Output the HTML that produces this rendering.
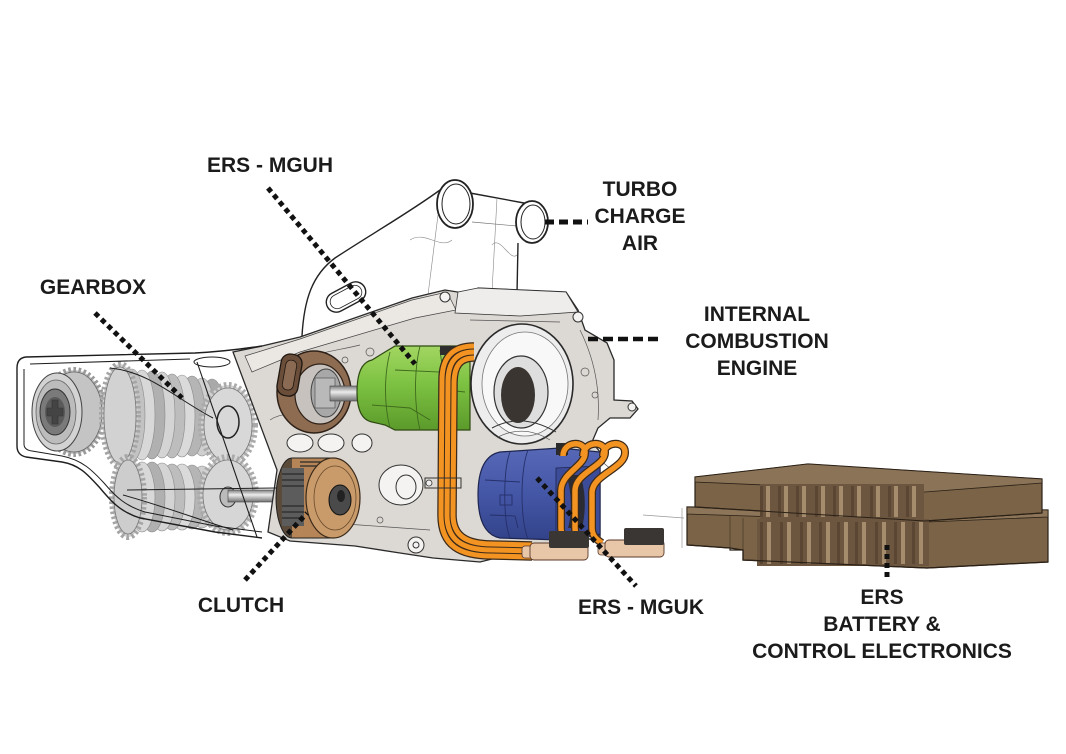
<!DOCTYPE html>
<html><head><meta charset="utf-8"><style>
html,body{margin:0;padding:0;background:#fff;}
svg{display:block;}
text{font-family:"Liberation Sans",sans-serif;font-weight:bold;font-size:21px;fill:#1b1b1b;}
</style></head><body>
<svg width="1066" height="754" viewBox="0 0 1066 754" xmlns="http://www.w3.org/2000/svg">
<defs>
<linearGradient id="shaft" x1="0" y1="0" x2="0" y2="1"><stop offset="0" stop-color="#7d7d7d"/><stop offset=".4" stop-color="#ececec"/><stop offset="1" stop-color="#707070"/></linearGradient>
<linearGradient id="green" x1="0" y1="0" x2="0" y2="1"><stop offset="0" stop-color="#a2d662"/><stop offset=".45" stop-color="#7dc242"/><stop offset="1" stop-color="#5b9a2b"/></linearGradient>
<linearGradient id="blue" x1="0" y1="0" x2="0" y2="1"><stop offset="0" stop-color="#5668b6"/><stop offset=".5" stop-color="#4456a6"/><stop offset="1" stop-color="#33438a"/></linearGradient>
</defs>
<rect width="1066" height="754" fill="#fff"/>

<!-- intake structure -->
<g fill="none" stroke="#222" stroke-width="1.4">
<path d="M302,336 C304,300 312,275 335,258 C370,235 410,212 440,190"/>
<path d="M470,193 L524,203"/>
<path d="M472,222 L517,226" stroke-width="0.7" stroke="#777"/>
<path d="M518,243 L517,294"/>
<path d="M497,198 L492,292" stroke-width="0.6" stroke="#888"/>
<path d="M438,215 L428,295" stroke-width="0.6" stroke="#888"/>
<path d="M410,240 C425,230 440,250 452,240" stroke-width="0.6" stroke="#888"/>
<path d="M492,245 C500,235 510,262 517,255" stroke-width="0.6" stroke="#888"/>
</g>
<ellipse cx="455" cy="204" rx="18" ry="24" fill="#fff" stroke="#222" stroke-width="1.8"/>
<ellipse cx="456" cy="204" rx="14" ry="20" fill="#fff" stroke="#222" stroke-width="1"/>
<ellipse cx="532" cy="222" rx="16" ry="21" fill="#fff" stroke="#222" stroke-width="1.8"/>
<ellipse cx="533" cy="222" rx="12" ry="17" fill="#fff" stroke="#222" stroke-width="1"/>
<g transform="rotate(-28 346 297)"><rect x="325" y="287" width="42" height="20" rx="10" fill="#fff" stroke="#222" stroke-width="1.4"/><rect x="329" y="290" width="34" height="14" rx="7" fill="none" stroke="#222" stroke-width="0.8"/></g>

<!-- gearbox casing fill -->
<path d="M26,357 L262,346 L277,470 L262,538 L215,532 L140,518 C120,512 110,500 100,488 C88,475 80,465 62,462 L26,457 Q17,455 17,446 L17,368 Q17,358 26,357 Z" fill="#fff"/>

<!-- left gear -->
<ellipse cx="74" cy="412" rx="30" ry="42" fill="#c8c8c8" stroke="#9a9a9a" stroke-width="6" stroke-dasharray="2.5 2.5"/>
<ellipse cx="74" cy="412" rx="28" ry="40" fill="#c4c4c4" stroke="#666" stroke-width="0.8"/>
<ellipse cx="57" cy="412" rx="25" ry="39" fill="#d3d3d3" stroke="#444" stroke-width="1"/>
<ellipse cx="56" cy="412" rx="20" ry="32" fill="#bcbcbc" stroke="#666" stroke-width="0.8"/>
<ellipse cx="55" cy="412" rx="15" ry="23" fill="#7a7a7a" stroke="#333" stroke-width="1"/>
<ellipse cx="55" cy="412" rx="10" ry="15" fill="#5a5a5a"/>
<path d="M52,400 h6 v8 h5 v8 h-5 v8 h-6 v-8 h-5 v-8 h5 z" fill="#444" stroke="#333" stroke-width="0.6"/>

<!-- upper gear stack -->
<g stroke="#8a8a8a" stroke-width="0.6">
<ellipse cx="212" cy="417" rx="13" ry="38" fill="#a9a9a9"/>
<ellipse cx="202" cy="417" rx="13" ry="39" fill="#cfcfcf"/>
<ellipse cx="192" cy="416" rx="13" ry="40" fill="#b5b5b5"/>
<ellipse cx="182" cy="416" rx="13" ry="41" fill="#dadada"/>
<ellipse cx="172" cy="416" rx="13" ry="42" fill="#bdbdbd"/>
<ellipse cx="162" cy="415" rx="13" ry="43" fill="#d4d4d4"/>
<ellipse cx="152" cy="415" rx="13" ry="44" fill="#b0b0b0"/>
<ellipse cx="142" cy="415" rx="13" ry="45" fill="#d8d8d8"/>
<ellipse cx="132" cy="415" rx="13" ry="46" fill="#c2c2c2"/>
</g>
<ellipse cx="120" cy="415" rx="18" ry="51" fill="#cfcfcf" stroke="#a5a5a5" stroke-width="6" stroke-dasharray="2.5 2.5"/>
<ellipse cx="120" cy="415" rx="16" ry="48" fill="#d2d2d2" stroke="#777" stroke-width="0.8"/>
<ellipse cx="228" cy="425" rx="27" ry="40" fill="#d4d4d4" stroke="#aaa" stroke-width="6" stroke-dasharray="2.5 2.5"/>
<ellipse cx="228" cy="425" rx="24" ry="37" fill="#d8d8d8" stroke="#777" stroke-width="0.8"/>
<ellipse cx="228" cy="422" rx="11" ry="16" fill="none" stroke="#222" stroke-width="1.5"/>

<!-- lower gear stack -->
<g stroke="#8a8a8a" stroke-width="0.6">
<ellipse cx="212" cy="497" rx="13" ry="30" fill="#a9a9a9"/>
<ellipse cx="202" cy="497" rx="13" ry="31" fill="#cfcfcf"/>
<ellipse cx="192" cy="497" rx="13" ry="32" fill="#b5b5b5"/>
<ellipse cx="182" cy="497" rx="13" ry="33" fill="#dadada"/>
<ellipse cx="172" cy="497" rx="13" ry="33" fill="#bdbdbd"/>
<ellipse cx="162" cy="497" rx="13" ry="34" fill="#d4d4d4"/>
<ellipse cx="152" cy="497" rx="13" ry="35" fill="#b0b0b0"/>
<ellipse cx="142" cy="497" rx="13" ry="35" fill="#d8d8d8"/>
</g>
<ellipse cx="128" cy="497" rx="16" ry="40" fill="#cfcfcf" stroke="#a5a5a5" stroke-width="6" stroke-dasharray="2.5 2.5"/>
<ellipse cx="128" cy="497" rx="14" ry="37" fill="#cdcdcd" stroke="#777" stroke-width="0.8"/>
<ellipse cx="228" cy="495" rx="28" ry="38" fill="#d4d4d4" stroke="#aaa" stroke-width="6" stroke-dasharray="2.5 2.5"/>
<ellipse cx="228" cy="495" rx="25" ry="35" fill="#d6d6d6" stroke="#777" stroke-width="0.8"/>
<ellipse cx="228" cy="497" rx="8" ry="10" fill="#bbb" stroke="#333" stroke-width="1"/>
<rect x="228" y="490" width="50" height="12" fill="url(#shaft)" stroke="#444" stroke-width="0.6"/>

<!-- engine block -->
<path d="M233,352 L262,346 L300,337 L412,298 L445,290 L470,294 L478,288 L566,292 L578,310 L585,330 L607,343 L614,360 L614,400 L632,401 L638,409 L630,418 L610,418 L598,428 L592,442 L600,452 L600,538 L560,542 L480,562 L433,558 L400,553 L355,546 L290,541 L268,532 L277,470 Z" fill="#dcd8d3" stroke="#2a2a2a" stroke-width="1.3"/>
<path d="M245,356 L300,339 L412,300 L447,292 L456,310 L415,318 L300,352 L252,372 Z" fill="#ebe8e4" stroke="#444" stroke-width="0.7"/>
<path d="M455,313 L458,292 L478,288 L566,292 L578,312 L520,316 Z" fill="#efedeb" stroke="#333" stroke-width="0.8"/>
<g fill="none" stroke="#555" stroke-width="0.7">
<path d="M300,360 C320,352 340,350 360,345"/>
<path d="M270,420 C285,410 300,415 315,425"/>
<path d="M580,330 C595,360 600,390 598,420"/>
<path d="M470,320 L560,322"/>
<path d="M280,520 L360,525 L430,530"/>
<path d="M600,460 L612,470"/>
<circle cx="330" cy="365" r="4"/><circle cx="345" cy="360" r="3"/><circle cx="370" cy="352" r="4"/>
<circle cx="585" cy="372" r="4"/><circle cx="595" cy="395" r="3"/>
<circle cx="300" cy="515" r="3"/><circle cx="380" cy="520" r="3"/>
</g>
<g fill="#f4f3f2" stroke="#333" stroke-width="1">
<ellipse cx="300" cy="443" rx="13" ry="9"/>
<ellipse cx="331" cy="443" rx="13" ry="9"/>
<ellipse cx="362" cy="443" rx="10" ry="9"/>
<ellipse cx="401" cy="485" rx="22" ry="20"/>
<ellipse cx="406" cy="487" rx="10" ry="12"/>
<circle cx="445" cy="297" r="5"/>
<circle cx="578" cy="317" r="5"/>
<circle cx="632" cy="407" r="4"/>
<circle cx="416" cy="545" r="8"/>
<circle cx="416" cy="545" r="3"/>
</g>

<!-- gearbox outlines -->
<g fill="none" stroke="#1e1e1e" stroke-width="1.4">
<path d="M26,357 L195,353 C215,352 235,350 262,346"/>
<path d="M26,357 Q17,358 17,368 L17,446 Q17,455 26,457 L62,462 C80,465 88,475 100,488 C110,500 120,512 140,518 L215,532 L262,538"/>
<path d="M30,364 L190,359" stroke-width="1"/>
<path d="M24,369 L24,444 Q24,450 32,451 L62,456 C82,460 92,470 104,483 C115,496 125,506 145,512 L215,526 L262,532" stroke-width="1"/>
<path d="M197,362 L257,537" stroke-width="1.1"/>
<path d="M110,368 C150,372 175,398 213,418" stroke-width="1"/>
<path d="M127,490 L277,488" stroke-width="1"/>
<path d="M123,495 C160,505 200,520 233,530" stroke-width="1"/>
<ellipse cx="212" cy="362" rx="18" ry="5" stroke-width="1"/>
</g>

<!-- clutch -->
<ellipse cx="292" cy="498" rx="16" ry="40" fill="#5a4a3a" stroke="#222" stroke-width="1"/>
<rect x="292" y="458" width="41" height="80" fill="#b58557"/>
<line x1="292" y1="458" x2="333" y2="458" stroke="#222" stroke-width="1"/>
<line x1="292" y1="538" x2="333" y2="538" stroke="#222" stroke-width="1"/>
<rect x="282" y="468" width="22" height="58" fill="#5c5c5c"/>
<g stroke="#2a2a2a" stroke-width="1.2">
<line x1="282" y1="474" x2="304" y2="474"/><line x1="282" y1="480" x2="304" y2="480"/><line x1="282" y1="486" x2="304" y2="486"/>
<line x1="282" y1="506" x2="304" y2="506"/><line x1="282" y1="512" x2="304" y2="512"/><line x1="282" y1="518" x2="304" y2="518"/>
<line x1="300" y1="462" x2="325" y2="462"/><line x1="300" y1="466" x2="325" y2="466"/>
</g>
<ellipse cx="333" cy="498" rx="27" ry="40" fill="#c99b6b" stroke="#3a2a1a" stroke-width="1.2"/>
<ellipse cx="335" cy="498" rx="21" ry="32" fill="none" stroke="#6a4a2a" stroke-width="0.8"/>
<ellipse cx="340" cy="500" rx="11" ry="15" fill="#4a4a4a" stroke="#111" stroke-width="1"/>
<ellipse cx="341" cy="496" rx="4" ry="6" fill="#222"/>

<!-- brown ring + shaft -->
<ellipse cx="314" cy="392" rx="37" ry="41" fill="#8e6c52" stroke="#2e2118" stroke-width="1.5"/>
<ellipse cx="320" cy="394" rx="25" ry="30" fill="#c7c2bd" stroke="#2e2118" stroke-width="1.2"/>
<ellipse cx="326" cy="393" rx="15" ry="24" fill="#a8a8a8" stroke="#444" stroke-width="1"/>
<rect x="315" y="378" width="20" height="30" fill="#b9b9b9" stroke="#555" stroke-width="0.7"/>
<g transform="rotate(10 289 375)"><rect x="279" y="354" width="21" height="42" rx="9" fill="#6a4e3a" stroke="#1f1711" stroke-width="1.3"/><rect x="284" y="360" width="11" height="30" rx="5" fill="#8a6a52" stroke="#1f1711" stroke-width="0.8"/></g>
<rect x="330" y="386" width="32" height="15" fill="url(#shaft)" stroke="#444" stroke-width="0.6"/>

<!-- green MGUH -->
<path d="M357,392 C357,372 362,362 372,360 L385,352 L395,346 L462,346 L470,352 L470,430 L395,430 L385,425 L372,422 C362,420 357,410 357,392 Z" fill="url(#green)" stroke="#2e4a12" stroke-width="1.2"/>
<g fill="none" stroke="#3f6a1c" stroke-width="0.9">
<path d="M390,352 C384,375 384,405 390,428"/>
<path d="M420,346 C414,370 414,405 420,430"/>
<path d="M395,370 L440,372 L445,390 L465,392"/>
<path d="M372,405 L410,408 L430,420"/>
<path d="M440,350 L442,365 L462,366"/>
</g>
<rect x="440" y="346" width="22" height="9" fill="#2e2e2e"/>

<!-- compressor -->
<ellipse cx="522" cy="384" rx="51" ry="60" fill="#ededed" stroke="#2a2a2a" stroke-width="1.6"/>
<ellipse cx="525" cy="384" rx="43" ry="52" fill="#f8f8f8" stroke="#777" stroke-width="0.8"/>
<ellipse cx="521" cy="392" rx="27" ry="36" fill="#dedede" stroke="#333" stroke-width="1.2"/>
<ellipse cx="518" cy="395" rx="17" ry="28" fill="#3b3531"/>
<path d="M492,428 Q522,412 556,432" fill="none" stroke="#333" stroke-width="1"/>
<path d="M498,437 Q524,424 550,440" fill="none" stroke="#555" stroke-width="0.7"/>

<!-- main orange cables -->
<g fill="none" stroke-linecap="butt">
<g stroke="#3b2a1a" stroke-width="7.5">
<path d="M474,346 C452,346 442,358 442,380 L441,515 C441,546 460,556 492,556 L532,557"/>
<path d="M474,352 C456,352 448,362 448,382 L447,515 C447,540 462,550 492,550 L532,551"/>
<path d="M474,358 C460,358 454,366 454,384 L453,515 C453,534 464,544 492,544 L532,545"/>
</g>
<g stroke="#f39322" stroke-width="5">
<path d="M474,346 C452,346 442,358 442,380 L441,515 C441,546 460,556 492,556 L532,557"/>
<path d="M474,352 C456,352 448,362 448,382 L447,515 C447,540 462,550 492,550 L532,551"/>
<path d="M474,358 C460,358 454,366 454,384 L453,515 C453,534 464,544 492,544 L532,545"/>
</g>
</g>
<rect x="425" y="478" width="36" height="10" fill="none" stroke="#333" stroke-width="1"/>
<circle cx="429" cy="483" r="3" fill="#eee" stroke="#333" stroke-width="0.8"/>

<!-- blue MGUK -->
<path d="M478,495 C478,470 485,455 500,452 L560,448 L600,452 L600,535 L560,540 L500,538 C485,535 478,520 478,495 Z" fill="url(#blue)" stroke="#1d2550" stroke-width="1.2"/>
<g fill="none" stroke="#25306a" stroke-width="0.9">
<path d="M510,452 C503,470 503,520 510,538"/>
<path d="M528,450 C520,470 520,520 528,539"/>
<path d="M485,480 L520,482"/>
<path d="M490,515 L515,516 L518,528"/>
<rect x="500" y="495" width="12" height="10"/>
</g>
<path d="M556,468 L600,466 L600,534 L556,536 Z" fill="#3c4c98" stroke="#1d2550" stroke-width="0.8"/>
<path d="M566,475 C572,490 572,515 568,528 L582,528 C586,512 586,490 580,475 Z" fill="#2b2b33"/>
<rect x="556" y="443" width="12" height="12" fill="#2a2a2a"/>

<!-- MGUK cables -->
<g fill="none">
<g stroke="#3b2a1a" stroke-width="8">
<path d="M563,456 C563,441 585,440 585,452 C586,466 562,472 561,490 L561,528 C561,536 566,540 572,543"/>
<path d="M583,456 C583,441 605,440 605,452 C606,466 576,472 575,490 L575,528 C575,536 580,540 586,543"/>
<path d="M603,456 C603,441 625,440 625,452 C626,468 593,474 592,492 L592,528 C592,536 597,540 602,543"/>
</g>
<g stroke="#f39322" stroke-width="5.5">
<path d="M563,456 C563,441 585,440 585,452 C586,466 562,472 561,490 L561,528 C561,536 566,540 572,543"/>
<path d="M583,456 C583,441 605,440 605,452 C606,466 576,472 575,490 L575,528 C575,536 580,540 586,543"/>
<path d="M603,456 C603,441 625,440 625,452 C626,468 593,474 592,492 L592,528 C592,536 597,540 602,543"/>
</g>
</g>

<!-- connectors -->
<rect x="522" y="546" width="12" height="12" rx="3" fill="#e8c7a9" stroke="#5a3a2a" stroke-width="0.8"/>
<rect x="530" y="543" width="58" height="17" rx="4" fill="#e8c7a9" stroke="#5a3a2a" stroke-width="0.9"/>
<rect x="549" y="531" width="40" height="17" rx="2" fill="#3a3634"/>
<rect x="598" y="543" width="12" height="12" rx="3" fill="#e8c7a9" stroke="#5a3a2a" stroke-width="0.8"/>
<rect x="605" y="540" width="59" height="17" rx="4" fill="#e8c7a9" stroke="#5a3a2a" stroke-width="0.9"/>
<rect x="624" y="528" width="40" height="17" rx="2" fill="#3a3634"/>

<!-- faint lines near battery -->
<g stroke="#999" stroke-width="0.7" fill="none">
<line x1="643" y1="515" x2="684" y2="518"/>
<line x1="682" y1="508" x2="682" y2="548"/>
</g>

<!-- battery -->
<path d="M687,507 L1048,510 L1048,562 L927,568 L743,560 L743,550 L730,548 L687,545 Z" fill="#7a6347" stroke="#2a2016" stroke-width="1.2"/>
<path d="M687,507 L1048,510 L1048,517 L927,522 L687,514 Z" fill="#8c7558" stroke="#2a2016" stroke-width="0.8"/>
<path d="M730,516 L730,548 M743,518 L743,550" stroke="#4d3c2a" stroke-width="0.8" fill="none"/>
<path d="M695,477 L808,464 L1042,479 L1042,513 L925,521 L695,507 Z" fill="#7a6347" stroke="#2a2016" stroke-width="1.2"/>
<path d="M695,477 L808,464 L1042,479 L1042,483 L925,492 L695,482 Z" fill="#8a7356" stroke="#2a2016" stroke-width="0.8"/>
<rect x="760" y="484" width="164" height="35" fill="#6c5640"/>
<rect x="757" y="519" width="172" height="47" fill="#6c5640"/>
<g fill="#a48c6c">
<rect x="766" y="486" width="4" height="31"/><rect x="784" y="486" width="4" height="31"/><rect x="802" y="486" width="4" height="31"/>
<rect x="821" y="486" width="4" height="31"/><rect x="839" y="486" width="4" height="31"/><rect x="857" y="486" width="4" height="31"/>
<rect x="876" y="486" width="4" height="31"/><rect x="894" y="486" width="4" height="31"/><rect x="912" y="486" width="4" height="31"/>
<rect x="767" y="522" width="4" height="42"/><rect x="787" y="522" width="4" height="42"/><rect x="807" y="522" width="4" height="42"/>
<rect x="826" y="522" width="4" height="42"/><rect x="844" y="522" width="4" height="42"/><rect x="862" y="522" width="4" height="42"/>
<rect x="882" y="522" width="4" height="42"/><rect x="901" y="522" width="4" height="42"/><rect x="919" y="522" width="4" height="42"/>
</g>
<g fill="#5a4632">
<rect x="760" y="486" width="3" height="31"/><rect x="778" y="486" width="3" height="31"/><rect x="796" y="486" width="3" height="31"/>
<rect x="815" y="486" width="3" height="31"/><rect x="833" y="486" width="3" height="31"/><rect x="851" y="486" width="3" height="31"/>
<rect x="870" y="486" width="3" height="31"/><rect x="888" y="486" width="3" height="31"/><rect x="906" y="486" width="3" height="31"/>
<rect x="760" y="522" width="3" height="42"/><rect x="780" y="522" width="3" height="42"/><rect x="800" y="522" width="3" height="42"/>
<rect x="819" y="522" width="3" height="42"/><rect x="837" y="522" width="3" height="42"/><rect x="855" y="522" width="3" height="42"/>
<rect x="875" y="522" width="3" height="42"/><rect x="894" y="522" width="3" height="42"/><rect x="912" y="522" width="3" height="42"/>
</g>
<path d="M687,545 L730,548 L730,550 L743,550 L743,560 L927,568 L1048,562" fill="none" stroke="#2a2016" stroke-width="1.2"/>
<path d="M695,507 L925,521 L1042,513" fill="none" stroke="#2a2016" stroke-width="1"/>

<!-- dotted leader lines -->
<g stroke="#111" stroke-width="5" stroke-dasharray="5 4" fill="none">
<line x1="268" y1="188" x2="415" y2="364"/>
<line x1="95" y1="313" x2="182" y2="398"/>
<line x1="245" y1="580" x2="307" y2="513"/>
<line x1="537" y1="478" x2="636" y2="586"/>
<line x1="887" y1="545" x2="887" y2="578"/>
</g>
<line x1="545" y1="222" x2="588" y2="222" stroke="#111" stroke-width="5" stroke-dasharray="9 5"/>
<line x1="588" y1="339" x2="663" y2="339" stroke="#111" stroke-width="4.5" stroke-dasharray="10 5"/>

<!-- labels -->
<text x="270" y="172" text-anchor="middle">ERS - MGUH</text>
<text x="93" y="294" text-anchor="middle">GEARBOX</text>
<text x="640" y="196" text-anchor="middle">TURBO</text>
<text x="640" y="223" text-anchor="middle">CHARGE</text>
<text x="640" y="250" text-anchor="middle">AIR</text>
<text x="757" y="321" text-anchor="middle">INTERNAL</text>
<text x="757" y="348" text-anchor="middle">COMBUSTION</text>
<text x="757" y="375" text-anchor="middle">ENGINE</text>
<text x="241" y="612" text-anchor="middle">CLUTCH</text>
<text x="641" y="614" text-anchor="middle">ERS - MGUK</text>
<text x="882" y="604" text-anchor="middle">ERS</text>
<text x="882" y="631" text-anchor="middle">BATTERY &amp;</text>
<text x="882" y="658" text-anchor="middle">CONTROL ELECTRONICS</text>
</svg>
</body></html>
